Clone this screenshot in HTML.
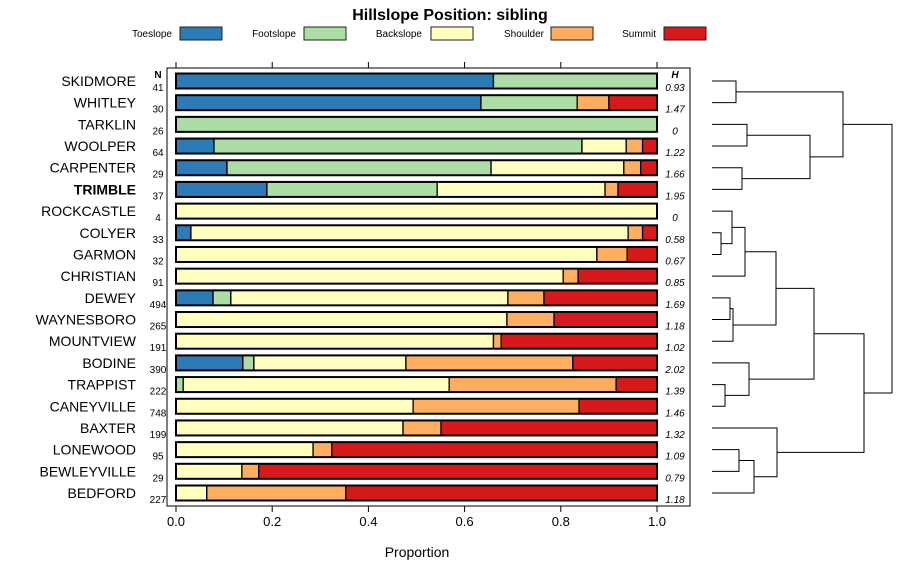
<!DOCTYPE html>
<html><head><meta charset="utf-8"><style>
body{margin:0;background:#fff;}
svg{display:block;font-family:"Liberation Sans",sans-serif;}
</style></head><body>
<svg id="c" width="900" height="580"></svg>
<script>
const soils=["SKIDMORE","WHITLEY","TARKLIN","WOOLPER","CARPENTER","TRIMBLE","ROCKCASTLE","COLYER","GARMON","CHRISTIAN","DEWEY","WAYNESBORO","MOUNTVIEW","BODINE","TRAPPIST","CANEYVILLE","BAXTER","LONEWOOD","BEWLEYVILLE","BEDFORD"];
const nVals=[41,30,26,64,29,37,4,33,32,91,494,265,191,390,222,748,199,95,29,227];
const hVals=["0.93","1.47","0","1.22","1.66","1.95","0","0.58","0.67","0.85","1.69","1.18","1.02","2.02","1.39","1.46","1.32","1.09","0.79","1.18"];
const positions=["Toeslope","Footslope","Backslope","Shoulder","Summit"];
const toeslope=[0.66,0.634,0,0.079,0.106,0.189,0,0.031,0,0,0.077,0,0,0.139,0,0,0,0,0,0];
const footslope=[0.34,0.2,1,0.765,0.549,0.354,0,0,0,0,0.037,0,0,0.023,0.015,0,0,0,0,0];
const backslope=[0,0,0,0.092,0.276,0.349,1,0.909,0.875,0.805,0.576,0.688,0.66,0.316,0.553,0.493,0.472,0.285,0.137,0.064];
const shoulder=[0,0.066,0,0.034,0.035,0.027,0,0.03,0.063,0.031,0.075,0.098,0.016,0.347,0.347,0.345,0.079,0.039,0.035,0.289];
const summit=[0,0.1,0,0.03,0.034,0.081,0,0.03,0.062,0.164,0.235,0.214,0.324,0.175,0.085,0.162,0.449,0.676,0.828,0.647];
const xTicks=[0,0.2,0.4,0.6,0.8,1.0];
// dendrogram merges: [leftNode,rightNode,height]; leaves 0..19, internal nodes 20+
const merges=[[0,1,24],[2,3,35],[4,5,30],[21,22,98],[20,23,131],[7,8,9],[6,25,20],[26,9,33],[10,11,18],[28,12,21],[27,29,64],[14,15,13],[13,31,37],[30,32,102],[17,18,27],[34,19,42],[16,35,65],[33,36,152],[24,37,180]];
const colors=["#2C7BB6","#ABDDA4","#FFFFBF","#FDAE61","#D7191C"];
const series=[toeslope,footslope,backslope,shoulder,summit];
const NS="http://www.w3.org/2000/svg";
const svg=document.getElementById("c");
function el(t,a,p){const e=document.createElementNS(NS,t);for(const k in a)e.setAttribute(k,a[k]);(p||svg).appendChild(e);return e;}
const x0=176,x1=657;
const xs=v=>x0+v*(x1-x0);
const yTop=81,yStep=(493-81)/19;
const ys=i=>yTop+i*yStep;
// title
let t=el("text",{x:450,y:20,"text-anchor":"middle","font-size":16,"font-weight":"bold"});t.textContent="Hillslope Position: sibling";


// legend
const legTextEnd=[172,296,422,544,656],legBox=[180,304,431,551,664];
positions.forEach((p,i)=>{
 const g=el("g",{});
 
 
 const tx=el("text",{x:legTextEnd[i],y:37,"text-anchor":"end","font-size":10},g);tx.textContent=p;
 el("rect",{x:legBox[i],y:27,width:42,height:13,fill:colors[i],stroke:"#222","stroke-width":1},g);
});
// plot frame
const fr=el("rect",{x:167,y:68,width:523,height:438,fill:"none",stroke:"#000","stroke-width":1});


// ticks
xTicks.forEach(v=>{
 el("line",{x1:xs(v),x2:xs(v),y1:62,y2:68,stroke:"#000"});
 el("line",{x1:xs(v),x2:xs(v),y1:506,y2:512,stroke:"#000"});
 const tl=el("text",{x:xs(v),y:526,"text-anchor":"middle","font-size":13});tl.textContent=v.toFixed(1);
 
 
});
t=el("text",{x:417,y:557,"text-anchor":"middle","font-size":14});t.textContent="Proportion";


// headers
t=el("text",{x:158,y:78,"text-anchor":"middle","font-size":10,"font-weight":"bold"});t.textContent="N";
t=el("text",{x:675,y:78,"text-anchor":"middle","font-size":10,"font-weight":"bold","font-style":"italic"});t.textContent="H";
// bars
soils.forEach((s,i)=>{
 const y=ys(i);
 const lb=el("text",{x:136,y:y+5,"text-anchor":"end","font-size":14,"font-weight":s==="TRIMBLE"?"bold":"normal"});lb.textContent=s;
 
 
 const nt=el("text",{x:158,y:y+10,"text-anchor":"middle","font-size":10});nt.textContent=nVals[i];
 
 
 const ht=el("text",{x:675,y:y+10,"text-anchor":"middle","font-size":10,"font-style":"italic"});ht.textContent=hVals[i];
 
 
 let cum=0;
 series.forEach((ser,k)=>{
  const v=ser[i];if(v<=0)return;
  const r=el("rect",{x:xs(cum),y:y-7.5,width:xs(cum+v)-xs(cum),height:15,fill:colors[k],stroke:"#000","stroke-width":1.3});
  
  
  cum+=v;
 });
 const o=el("rect",{x:x0,y:y-7.5,width:x1-x0,height:15,fill:"none",stroke:"#000","stroke-width":2});
});
// dendrogram
const dx=h=>712+h;
const nodeY={},nodeH={};
for(let i=0;i<20;i++){nodeY[i]=ys(i);nodeH[i]=0;}
const dg=el("g",{stroke:"#000","stroke-width":1,fill:"none"});


merges.forEach((m,j)=>{
 const [a,b,h]=m,id=20+j;
 el("path",{d:`M${dx(nodeH[a])},${nodeY[a]}H${dx(h)}V${nodeY[b]}H${dx(nodeH[b])}`},dg);
 nodeY[id]=(nodeY[a]+nodeY[b])/2;nodeH[id]=h;
});
</script>
</body></html>
